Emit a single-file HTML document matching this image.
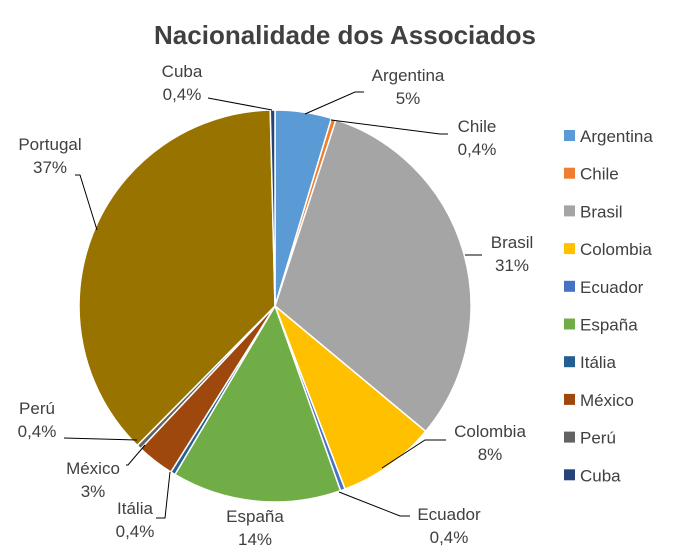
<!DOCTYPE html>
<html><head><meta charset="utf-8"><style>
body{margin:0;background:#fff}
svg text{font-family:"Liberation Sans",Calibri,sans-serif;fill:#404040}
</style></head><body>
<svg id="s" width="683" height="555" xmlns="http://www.w3.org/2000/svg">
<rect width="683" height="555" fill="#fff"/>
<text x="345" y="44" text-anchor="middle" font-size="26" font-weight="bold" style="fill:#404040">Nacionalidade dos Associados</text>
<g id="pie"></g>
<g stroke="#000" stroke-width="1" fill="none">
<polyline points="305,114 355,92 364,92"/>
<polyline points="331,120 440,134 448,134"/>
<polyline points="465,255 482,255"/>
<polyline points="382,468 425,440 446,440"/>
<polyline points="339,492 400,516 410,516"/>
<polyline points="170,472 165,518 156,518"/>
<polyline points="145,445 128,465 126,465"/>
<polyline points="137,440 64,438"/>
<polyline points="97,230 80,175 75,175"/>
<polyline points="272,110 208,98"/>
</g>
<g font-size="17" text-anchor="middle">
<text x="182" y="77">Cuba</text><text x="182" y="100">0,4%</text>
<text x="408" y="81">Argentina</text><text x="408" y="104">5%</text>
<text x="477" y="132">Chile</text><text x="477" y="155">0,4%</text>
<text x="512" y="248">Brasil</text><text x="512" y="271">31%</text>
<text x="490" y="437">Colombia</text><text x="490" y="460">8%</text>
<text x="449" y="520">Ecuador</text><text x="449" y="543">0,4%</text>
<text x="255" y="522">España</text><text x="255" y="545">14%</text>
<text x="135" y="514">Itália</text><text x="135" y="537">0,4%</text>
<text x="93" y="474">México</text><text x="93" y="497">3%</text>
<text x="37" y="414">Perú</text><text x="37" y="437">0,4%</text>
<text x="50" y="150">Portugal</text><text x="50" y="173">37%</text>
</g>
<g id="leg" font-size="17"></g>
</svg>
<script>
var d=[["Argentina",12,"#5B9BD5"],["Chile",1,"#ED7D31"],["Brasil",80,"#A5A5A5"],["Colombia",21,"#FFC000"],["Ecuador",1,"#4472C4"],["España",36,"#70AD47"],["Itália",1,"#255E91"],["México",8,"#9E480E"],["Perú",1,"#636363"],["Portugal",96,"#997300"],["Cuba",1,"#264478"]];
var T=0;d.forEach(function(e){T+=e[1]});
var cx=275,cy=306,r=196,a=0,h="",ns="http://www.w3.org/2000/svg";
var pie=document.getElementById("pie"),leg=document.getElementById("leg");
d.forEach(function(e,i){var a0=a;a+=e[1]/T*2*Math.PI;
var x0=cx+r*Math.sin(a0),y0=cy-r*Math.cos(a0),x1=cx+r*Math.sin(a),y1=cy-r*Math.cos(a);
var p=document.createElementNS(ns,"path");
p.setAttribute("d","M"+cx+","+cy+"L"+x0+","+y0+"A"+r+","+r+" 0 "+((a-a0)>Math.PI?1:0)+" 1 "+x1+","+y1+"Z");
p.setAttribute("fill",e[2]);p.setAttribute("stroke","#fff");p.setAttribute("stroke-width","1.5");pie.appendChild(p);
if(i<10){}});
var names=["Argentina","Chile","Brasil","Colombia","Ecuador","España","Itália","México","Perú","Cuba"];
names.forEach(function(n,i){var e=d.filter(function(x){return x[0]==n})[0];var y=136+i*37.7;
var q=document.createElementNS(ns,"rect");q.setAttribute("x",564);q.setAttribute("y",y-6);q.setAttribute("width",11);q.setAttribute("height",11);q.setAttribute("fill",e[2]);leg.appendChild(q);
var t=document.createElementNS(ns,"text");t.setAttribute("x",580);t.setAttribute("y",y+6);t.textContent=n;leg.appendChild(t);});
</script>
</body></html>
